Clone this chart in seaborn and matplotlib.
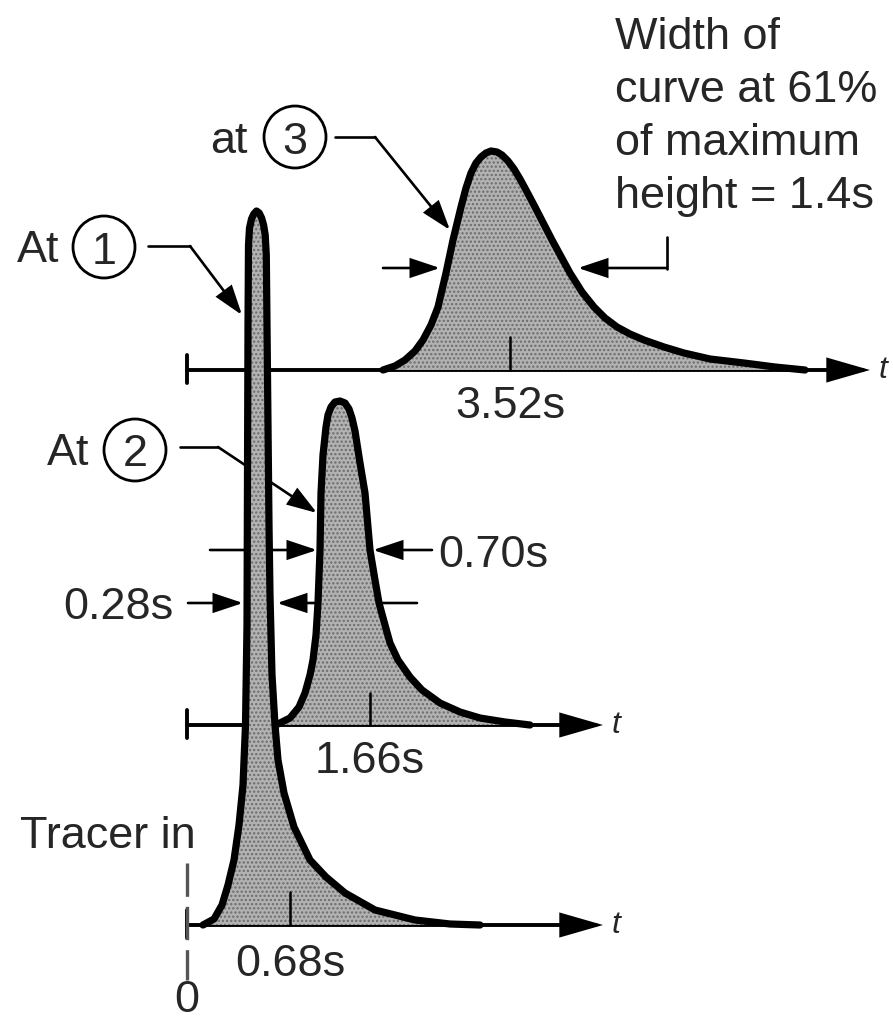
import matplotlib
matplotlib.use("Agg")
import matplotlib.pyplot as plt
from matplotlib.patches import Circle
import seaborn as sns

# ---------------- data ----------------
# each curve: horizontal position (picture units) and height above its own t-axis
c1_x = [203, 214, 222, 228, 234, 239, 243, 245.5, 247, 247.5, 248, 248.5, 249.5, 251.5,
        253.8, 256.5, 259.2, 261.6, 263.6, 265.2, 266.3, 268, 269, 270, 272, 275, 278,
        284, 294, 310, 326, 345, 375, 415, 450, 480]
c1_h = [0, 6, 20, 40, 65, 100, 140, 200, 300, 450, 600, 680, 697, 706,
        711, 714, 712, 707, 700, 690, 670, 500, 400, 330, 250, 200, 165,
        132, 98, 65, 48, 32, 15, 5, 1, 0]

c2_x = [276, 290, 299, 305, 310, 313, 316, 318, 320, 321, 323, 326, 328, 331, 335,
        340, 345, 349, 352, 355, 360, 365, 370, 375, 379, 385, 390, 398, 410, 422,
        440, 460, 480, 505, 530]
c2_h = [0, 7, 18, 32, 50, 65, 90, 122, 175, 232, 270, 298, 310, 318, 323,
        324, 322, 316, 307, 294, 262, 232, 175, 145, 122, 100, 82, 65, 48, 35,
        22, 13, 7, 3, 0]

c3_x = [383, 395, 405, 415, 423, 431, 438, 446, 453, 461, 466, 471, 476, 481, 486,
        491, 497, 502, 508, 514, 520, 526, 535, 552, 570, 582, 594, 605, 617, 630,
        644, 664, 684, 710, 744, 775, 805]
c3_h = [0, 4, 10, 19, 30, 45, 63, 97, 130, 163, 182, 197, 207, 213, 217,
        219, 218, 215, 209, 201, 191, 180, 163, 130, 97, 78, 63, 52, 43, 36,
        30, 23, 17, 11, 7, 3, 0]

curves_x = [c1_x, c2_x, c3_x]
curves_h = [c1_h, c2_h, c3_h]
baselines = [925, 725, 370]          # position of each t-axis
axis_start = 187
axis_end = [603, 603, 870]
mean_x = [290, 370, 510]             # mean residence time marks
mean_h = [33, 32, 33]
mean_labels = ["0.68s", "1.66s", "3.52s"]
station_labels = ["1", "2", "3"]
note_lines = ["Width of", "curve at 61%", "of maximum", "height = 1.4s"]

# ---------------- drawing ----------------
sns.set_theme(style="white")
plt.rcParams["font.family"] = ["Liberation Sans", "DejaVu Sans"]
plt.rcParams["hatch.linewidth"] = 1.1

W, H = 893, 1023
fig = plt.figure(figsize=(W / 100, H / 100), dpi=100)
ax = fig.add_axes([0, 0, 1, 1])
ax.set_xlim(0, W)
ax.set_ylim(H, 0)
ax.axis("off")

FS = 32.4          # ~45 px
LW_THIN = 1.9
LW_AXIS = 2.8
LW_CURVE = 5.2


def arrow(tip, start, lw=LW_THIN, hl=0.9, hw=0.3, z=1):
    ax.annotate("", xy=tip, xytext=start,
                arrowprops=dict(arrowstyle=f"-|>,head_length={hl},head_width={hw}",
                                mutation_scale=20, lw=lw, color="black",
                                shrinkA=0, shrinkB=0, joinstyle="miter"),
                zorder=z)


# t-axes with left tick and arrow
for b, xe in zip(baselines, axis_end):
    arrow((xe, b), (axis_start, b), lw=LW_AXIS, hl=1.25, hw=0.36)
    ax.plot([axis_start, axis_start], [b - 15, b + 13], color="black", lw=LW_AXIS, zorder=1)
    ax.text(xe + 9, b, "t", fontsize=23, style="italic", ha="left", va="center")

# dashed "tracer in" line
ax.plot([axis_start, axis_start], [863, 980], color="#555555", lw=2.4,
        linestyle=(0, (10, 3)), zorder=1)

# curves
for xs, hs, b in zip(curves_x, curves_h, baselines):
    ys = [b - h for h in hs]
    ax.fill_between(xs, ys, b, facecolor="#b2b2b2", edgecolor="#6c6c6c",
                    hatch="....", lw=0, zorder=2)
    sns.lineplot(x=xs, y=ys, ax=ax, color="black", linewidth=LW_CURVE,
                 estimator=None, sort=False, zorder=3,
                 solid_joinstyle="round", solid_capstyle="round")

# mean ticks and labels
label_base = [976, 773, 418]
for mx, mh, b, lab, lb in zip(mean_x, mean_h, baselines, mean_labels, label_base):
    ax.plot([mx, mx], [b, b - mh], color="black", lw=1.8, zorder=4)
    ax.text(mx, lb, lab, fontsize=FS, ha="center", va="baseline")

# station labels with circled numbers
circ = [(104, 247), (135, 450), (295, 137)]
word = [("At", 17, 262), ("At", 47, 465), ("at", 210, 153)]
for (cx, cy), (w, wx, wy), s in zip(circ, word, station_labels):
    ax.add_patch(Circle((cx, cy), 31, fill=False, lw=2.0, color="black", zorder=5))
    ax.text(cx, cy + 16.5, s, fontsize=FS, ha="center", va="baseline")
    ax.text(wx, wy, w, fontsize=FS, ha="left", va="baseline")

# leaders
ax.plot([148, 190], [246, 246], color="black", lw=LW_THIN, zorder=1)
arrow((242, 315), (190, 246))
ax.plot([180, 218], [447, 447], color="black", lw=LW_THIN, zorder=1)
arrow((317, 513), (218, 447))
ax.plot([335, 375], [137, 137], color="black", lw=LW_THIN, zorder=1)
arrow((450, 230), (375, 137))

# width marks
arrow((440, 268), (383, 268))
arrow((578, 268), (667, 268))
ax.plot([667, 667], [269, 237], color="black", lw=LW_THIN, zorder=1)

arrow((317, 550), (210, 550))
arrow((373, 550), (432, 550))
ax.text(438, 567, "0.70s", fontsize=FS, ha="left", va="baseline")

arrow((243, 603), (188, 603))
arrow((277, 603), (417, 603))
ax.text(63, 619, "0.28s", fontsize=FS, ha="left", va="baseline")

# other text
for i, line in enumerate(note_lines):
    ax.text(615, 49 + 53 * i, line, fontsize=FS, ha="left", va="baseline")
ax.text(20, 848, "Tracer in", fontsize=FS, ha="left", va="baseline")
ax.text(187, 1012, "0", fontsize=FS, ha="center", va="baseline")

fig.savefig("out.png", dpi=100, facecolor="white")
